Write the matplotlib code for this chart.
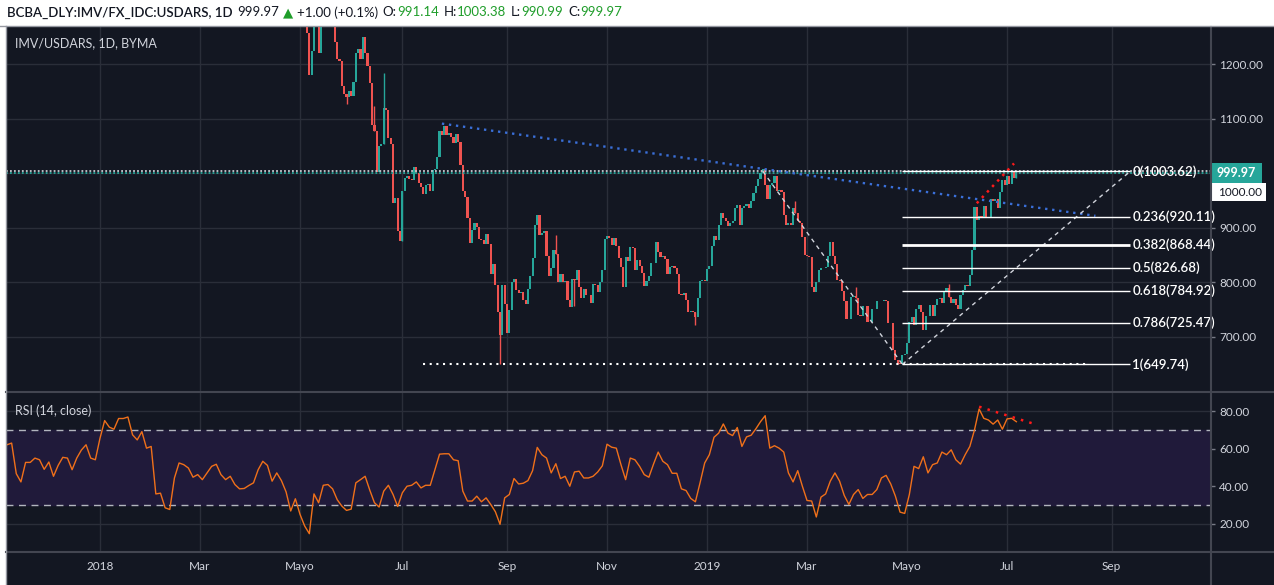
import matplotlib
matplotlib.use('Agg')
import matplotlib.pyplot as plt
import matplotlib.transforms as mtransforms
from matplotlib.patches import Rectangle
from matplotlib.lines import Line2D
import numpy as np
import pandas as pd

plt.rcParams['font.family'] = ['Lato', 'DejaVu Sans']

# ---------------- data ----------------
symbol = "BCBA_DLY:IMV/FX_IDC:USDARS, 1D"
last_px = "999.97"
change = "+1.00 (+0.1%)"
ohlc = [("O:", "991.14"), ("H:", "1003.38"), ("L:", "990.99"), ("C:", "999.97")]
pane_title = "IMV/USDARS, 1D, BYMA"
rsi_title = "RSI (14, close)"

# daily closes from 2018-05-04 to 2019-07-05 (business days)
candle_start = '2018-05-04'
first_open = 1290
closes = [
    1258, 1180, 1225, 1290, 1300, 1221, 1295, 1320, 1335, 1315,
    1300, 1285, 1240, 1210, 1205, 1160, 1145, 1140, 1150, 1142,
    1168, 1220, 1228, 1210, 1250, 1221, 1196, 1165, 1088, 1077,
    1003, 1050, 1053, 1120, 1116, 1065, 1054, 945, 955, 895,
    875, 968, 991, 995, 990, 988, 1012, 1000, 982, 975,
    962, 978, 980, 967, 1006, 1008, 1030, 1077, 1070, 1086,
    1071, 1073, 1067, 1055, 1072, 1058, 1015, 967, 957, 918,
    872, 896, 908, 902, 880, 878, 870, 889, 871, 816,
    833, 795, 746, 703, 795,
    761, 708, 750, 800, 806, 786, 780, 782, 768, 760,
    788, 811, 845, 906, 924, 887, 890, 895, 849, 811,
    826, 860, 852, 800, 816, 800, 802, 767, 754, 806,
    804, 822, 792, 772, 787, 777, 776, 762, 797, 795,
    782, 800, 823, 879, 885, 881, 869, 882, 866, 845,
    829, 791, 846, 840, 865, 863, 822, 841, 830, 818,
    794, 802, 811, 835, 836, 874, 855, 846, 849, 843,
    816, 829, 830, 826, 816, 779, 777, 781, 768, 746,
    748, 745, 737, 771, 803, 805,
    803, 824, 830, 866, 885, 877, 906, 928, 918, 913,
    904, 909, 912, 936, 941, 906, 936, 940, 943, 936,
    949, 964, 976, 989, 1001, 1008, 979, 952, 979, 982,
    995, 967, 970, 966, 924, 906, 908, 906, 936, 927,
    912, 909, 883, 851, 848, 846, 792, 783, 801, 822,
    826, 827, 828, 848, 874, 848, 834, 804, 802, 785,
    765, 732, 733, 774, 775, 771, 740, 739, 756, 757,
    728, 727, 751, 752, 765, 766, 765, 767, 765, 725,
    726, 676, 658, 652, 650, 667,
    669, 688, 728, 737, 721, 751, 759, 745, 713, 738,
    739, 759, 739, 759, 770, 772, 763, 783, 789, 774,
    762, 769, 759, 751, 777, 786, 795, 794, 814, 859,
    938, 915, 921, 919, 940, 919, 920, 953, 950, 953,
    936, 965, 987, 979, 995, 981, 1002, 991.14, 999.97,
]
# notable wicks: bar number in closes, low, high (nan = none)
wick_bar = [17, 29, 33, 41, 83, 107, 115, 167, 210, 236, 254, 276, 305]
wick_lo = [1127, np.nan, 1071, 914, 651, np.nan, 756, 722, np.nan, np.nan, 649.74, np.nan, 990.99]
wick_hi = [np.nan, 1123, 1184, np.nan, np.nan, 887, np.nan, np.nan, 950, 792, np.nan, 797, 1003.38]

# RSI(14), every second bar from 2017-11-06
rsi_start = '2017-11-06'
rsi_vals = [
    62.0, 62.9, 46.6, 42.2, 52.6, 52.6, 54.9, 54.0, 48.9, 52.8,
    45.2, 51.0, 55.3, 54.9, 48.7, 54.9, 59.2, 62.0, 54.9, 54.0,
    65.5, 74.9, 71.4, 70.3, 76.0, 76.0, 76.8, 67.3, 64.6, 69.0,
    60.2, 61.1, 35.8, 36.2, 28.4, 27.5, 44.3, 52.3, 51.4, 49.6,
    44.7, 46.1, 43.4, 47.0, 50.5, 51.6, 46.1, 43.4, 45.2, 40.8,
    38.5, 38.7, 40.3, 41.7, 48.7, 53.2, 51.0, 42.6, 47.0, 42.9,
    36.9, 26.7, 33.2, 24.9, 18.7, 14.6, 35.8, 31.1, 40.4, 40.8,
    38.5, 32.7, 29.3, 27.0, 27.7, 41.7, 43.4, 45.2, 37.8, 31.1,
    28.8, 37.3, 40.4, 35.5, 29.1, 36.4, 39.9, 40.4, 42.2, 39.0,
    40.4, 40.4, 48.7, 57.0, 57.2, 57.2, 54.0, 53.5, 37.3, 32.0,
    32.0, 34.6, 31.6, 33.7, 30.2, 26.3, 19.6, 33.7, 35.5, 44.0,
    41.1, 41.5, 42.9, 48.2, 60.6, 56.7, 54.9, 47.0, 51.9, 44.0,
    45.2, 39.9, 47.5, 47.9, 44.3, 44.3, 45.2, 47.5, 50.8, 62.3,
    60.7, 60.2, 51.4, 43.4, 54.9, 54.0, 50.5, 46.1, 44.7, 51.7,
    58.1, 53.2, 51.4, 46.8, 46.8, 38.5, 37.6, 33.4, 31.6, 41.7,
    52.3, 56.7, 66.0, 68.2, 73.1, 68.2, 66.9, 71.2, 61.1, 66.2,
    67.1, 70.5, 74.3, 77.5, 60.2, 61.5, 60.2, 58.1, 47.0, 42.2,
    48.2, 39.9, 32.3, 32.0, 23.5, 34.1, 35.8, 42.6, 47.0, 42.6,
    35.0, 30.2, 35.5, 38.1, 33.4, 35.5, 35.5, 38.1, 44.3, 45.7,
    41.1, 34.6, 26.1, 25.4, 35.5, 50.5, 49.3, 55.6, 47.0, 51.4,
    52.3, 58.1, 56.7, 59.3, 54.0, 51.7, 56.7, 61.1, 69.9, 81.1,
    76.1, 75.2, 73.0, 75.2, 70.3, 75.8, 76.1, 74.3,
]

# drawings: (date, price)
blue_trend = [('2018-07-25', 1091), ('2019-08-22', 922)]
support = [('2018-07-13', 649.74), ('2019-08-19', 649.74)]
fib_from = ('2019-04-29', 649.74)
fib_to = ('2019-09-12', 1003.62)
fib_levels = [0, 0.236, 0.382, 0.5, 0.618, 0.786, 1]
fib_prices = [1003.62, 920.11, 868.44, 826.68, 784.92, 725.47, 649.74]
swing_down = [('2019-02-04', 1003.62), ('2019-04-29', 649.74)]
red_trend = [('2019-06-12', 945), ('2019-07-04', 1018)]
rsi_red = [('2019-06-13', 82.3), ('2019-07-18', 72.6)]
hline_price = 1003.62
last_price = 999.97

tick_months = ['2018-01-01', '2018-03-01', '2018-05-01', '2018-07-01', '2018-09-01',
               '2018-11-01', '2019-01-01', '2019-03-01', '2019-05-01', '2019-07-01',
               '2019-09-01']
tick_labels = ['2018', 'Mar', 'Mayo', 'Jul', 'Sep', 'Nov', '2019', 'Mar', 'Mayo', 'Jul', 'Sep']
price_ticks = [700, 800, 900, 1000, 1100, 1200]
rsi_ticks = [20, 40, 60, 80]

# ---------------- style ----------------
bg = '#131722'
grid_c = '#2a2e39'
sep_c = '#434651'
up_c = '#26a69a'
dn_c = '#ef5350'
txt_c = '#d1d4dc'
hdr_green = '#1f9d2a'

dates = pd.bdate_range('2017-11-06', '2019-11-29')


def bar(d):
    return dates.get_loc(pd.Timestamp(d))


W, H = 1274, 585
fig = plt.figure(figsize=(W / 100, H / 100), dpi=100, facecolor='white')


def box(x0, y0, x1, y1):
    return [x0 / W, 1 - y1 / H, (x1 - x0) / W, (y1 - y0) / H]


fig.add_artist(Rectangle((6 / W, 0), 1 - 6 / W, 1 - 26.5 / H, transform=fig.transFigure,
                         facecolor=bg, edgecolor='none', zorder=0))

ax = fig.add_axes(box(6, 26.5, 1211, 391.5))
rsi = fig.add_axes(box(6, 393, 1211, 551.5))

xlim = (-0.42, 517.7)
tick_pos = dates.searchsorted(pd.to_datetime(tick_months))
for a in (ax, rsi):
    a.set_facecolor(bg)
    a.set_xlim(*xlim)
    for s in a.spines.values():
        s.set_visible(False)
    a.set_xticks(tick_pos)
    a.grid(True, color=grid_c, lw=1)
    a.set_axisbelow(True)
    a.yaxis.tick_right()
    a.tick_params(axis='y', length=3, width=1, color='#787b86', pad=3,
                  labelsize=8.5, labelcolor=txt_c)

ax.set_ylim(600, 1269)
ax.set_yticks(price_ticks)
ax.set_yticklabels(['' if p == 1000 else f'{p:.2f}' for p in price_ticks])
ax.tick_params(axis='x', length=0, labelbottom=False)

rsi.set_ylim(5.1, 89.6)
rsi.set_yticks(rsi_ticks)
rsi.set_yticklabels([f'{v:.2f}' for v in rsi_ticks])
rsi.set_xticklabels(tick_labels)
rsi.tick_params(axis='x', length=0, pad=7, labelsize=8.5, labelcolor=txt_c)

# ---------------- candles ----------------
closes = np.array(closes, dtype=float)
opens = np.r_[first_open, closes[:-1]]
cx = np.arange(len(closes)) + bar(candle_start)
bottom = np.minimum(opens, closes)
top = np.maximum(opens, closes)
height = np.maximum(top - bottom, 0.8)
colors = np.where(closes >= opens, up_c, dn_c)
ax.bar(cx, height, bottom=bottom, width=0.92, color=colors, linewidth=0, zorder=3)
for i, lo, hi in zip(wick_bar, wick_lo, wick_hi):
    lo_v = bottom[i] if np.isnan(lo) else min(lo, bottom[i])
    hi_v = top[i] if np.isnan(hi) else max(hi, top[i])
    ax.vlines(cx[i], lo_v, hi_v, color=colors[i], lw=1, zorder=3)

# ---------------- drawings ----------------
ax.axhline(hline_price, color='#c8cbd2', ls=(0, (1, 1.2)), lw=1.3, zorder=4)
ax.axhline(last_price, color=up_c, ls=(0, (1, 1.2)), lw=1.3, zorder=4)


def draw(pts, **kw):
    ax.plot([bar(d) for d, _ in pts], [p for _, p in pts], **kw)


draw(blue_trend, color='#3a6fd8', ls=(0, (1, 2)), lw=1.7, zorder=5)
draw(support, color='white', ls=(0, (1, 2.2)), lw=1.5, zorder=5)
draw(swing_down, color='#d1d4dc', ls=(0, (3, 3)), lw=1, zorder=5)
draw([fib_from, fib_to], color='#d1d4dc', ls=(0, (3, 3)), lw=1, zorder=5)
draw(red_trend, color='#ff1a1a', ls=(0, (1, 2)), lw=1.8, zorder=5)

fx0, fx1 = bar(fib_from[0]), bar(fib_to[0])
for lv, pr in zip(fib_levels, fib_prices):
    ax.hlines(pr, fx0, fx1, color='white', lw=2 if lv == 0.382 else 1, zorder=5)
    ax.annotate(f'{lv:g}({pr:.2f})', xy=(fx1, pr), xytext=(1.5, 0), textcoords='offset points',
                color='white', fontsize=9.5, fontweight='semibold', va='center', ha='left',
                zorder=6, annotation_clip=False)

# ---------------- RSI ----------------
rsi.axhspan(30, 70, color='#201a3a', zorder=1)
for lvl in (30, 70):
    rsi.axhline(lvl, color='#b2b5be', ls=(0, (5, 4)), lw=1, zorder=2)
rx = np.arange(len(rsi_vals)) * 2 + bar(rsi_start)
rsi.plot(rx, rsi_vals, color='#f0701a', lw=1, zorder=3)
rsi.plot([bar(d) for d, _ in rsi_red], [v for _, v in rsi_red], color='#ff1a1a',
         ls=(0, (1, 2.5)), lw=1.8, zorder=4)

# ---------------- texts ----------------
ax.text(9 / 1205, 1 - 17 / 365, pane_title, transform=ax.transAxes, color=txt_c,
        fontsize=9, va='center', ha='left')
rsi.text(9 / 1205, 1 - 18 / 158.5, rsi_title, transform=rsi.transAxes, color=txt_c,
         fontsize=9, va='center', ha='left')

# price labels on the right scale
blend = mtransforms.blended_transform_factory(fig.transFigure, ax.transData)
ppx = 365 / (1269 - 600)
fig.add_artist(Rectangle((1211 / W, last_price - 10 / ppx), 51 / W, 20 / ppx,
                         transform=blend, facecolor=up_c, edgecolor='none', clip_on=False))
fig.text(1236.5 / W, 0, last_px, transform=blend, color='white', fontsize=9,
         fontweight='bold', ha='center', va='center').set_y(last_price)
fig.add_artist(Rectangle((1211 / W, last_price - 28 / ppx), 55 / W, 18 / ppx,
                         transform=blend, facecolor='white', edgecolor='none', clip_on=False))
fig.text(1240 / W, 0, '1000.00', transform=blend, color='#131722', fontsize=8.5,
         ha='center', va='center').set_y(last_price - 19 / ppx)

# separators
for y in (392.2, 552):
    fig.add_artist(Line2D([6 / W, 1], [1 - y / H] * 2, color=sep_c, lw=1.5))
fig.add_artist(Line2D([1211 / W] * 2, [0, 1 - 26.5 / H], color=sep_c, lw=1.5))
fig.add_artist(Line2D([0, 1], [1 - 26 / H] * 2, color='#9598a1', lw=1))
fig.add_artist(Line2D([5.5 / W] * 2, [0, 1 - 26 / H], color='#9598a1', lw=1))

# header line with coloured values
renderer = fig.canvas.get_renderer()
hy = 1 - 12.5 / H
pieces = [(symbol, '#131722', 0), (last_px, '#131722', 5), ('\u25B2', hdr_green, 4),
          (change, '#131722', 3)]
for k, v in ohlc:
    pieces += [(k, '#131722', 5), (v, hdr_green, 0)]
x = 7
for s, c, gap in pieces:
    x += gap
    t = fig.text(x / W, hy, s, color=c, fontsize=9.5, va='center', ha='left',
                 fontweight='semibold' if s == symbol else 'normal')
    x = t.get_window_extent(renderer).x1

fig.savefig('out.png', dpi=100, facecolor='white')
